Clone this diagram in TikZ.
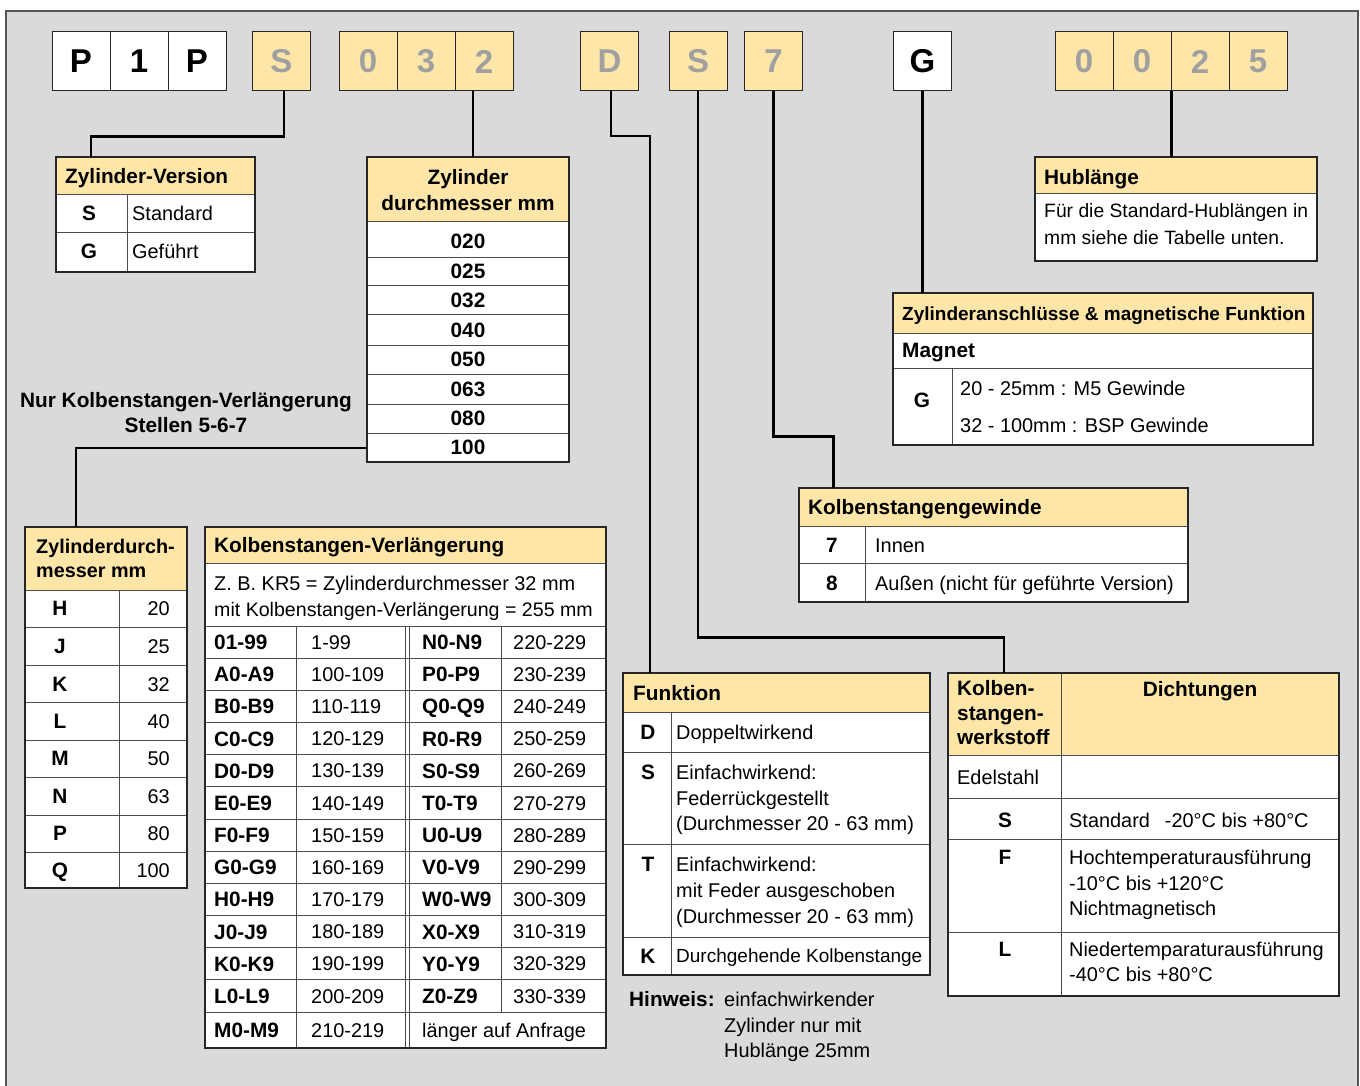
\documentclass[tikz,border=0pt]{standalone}
\usepackage{fontspec}
\setmainfont{Liberation Sans}
\usetikzlibrary{fit}
\definecolor{bg}{RGB}{217,218,220}
\definecolor{hdr}{RGB}{254,230,168}
\definecolor{codegray}{RGB}{160,160,160}
\definecolor{frame}{RGB}{85,85,85}
\newcommand\txf{\fontsize{19.9}{24}\selectfont}
\newcommand\hdf{\fontsize{20.8}{25}\selectfont\bfseries}
\tikzset{
  codebox/.style={draw=black!85, line width=1pt, minimum width=58pt, minimum height=59pt, inner sep=0pt, font=\fontsize{33}{33}\selectfont\bfseries},
  ycode/.style={codebox, fill=hdr, text=codegray},
  wcode/.style={codebox, fill=white, text=black},
  conn/.style={line width=2.6pt, black},
  tbl/.style={draw=black!85, line width=1.1pt},
  tline/.style={draw=black!70, line width=1pt},
  tx/.style={anchor=base west, inner sep=0pt, font=\txf},
  txr/.style={anchor=base east, inner sep=0pt, font=\txf},
  tb/.style={anchor=base west, inner sep=0pt, font=\hdf},
  tbc/.style={anchor=base, inner sep=0pt, font=\hdf},
}
\newcommand\TBL[6]{%
  \fill[white] (#2,#3) rectangle (#4,#5);
  \fill[hdr] (#2,#3) rectangle (#4,#6);
  \draw[tline] (#2,#6) -- (#4,#6);
  \node[inner sep=0pt, fit={(#2,#3) (#4,#5)}] (#1) {};
}
\newcommand\BRD[4]{\draw[tbl] (#1,#2) rectangle (#3,#4);}
\newcommand\TX[4]{\node[tx] (#1) at (#2,#3+7.2) {#4};}
\newcommand\TR[4]{\node[txr] (#1) at (#2,#3+7.2) {#4};}
\newcommand\TB[4]{\node[tb] (#1) at (#2,#3+7.5) {#4};}
\newcommand\TC[4]{\node[tbc] (#1) at (#2,#3+7.5) {#4};}
\begin{document}
\begin{tikzpicture}[x=1pt,y=-1pt]
\useasboundingbox (0,0) rectangle (1360,1086);
\fill[bg] (6,11) rectangle (1358,1086);
\draw[frame, line width=1.5pt] (6,1086) -- (6,11) -- (1358,11) -- (1358,1086);

% ---------- code boxes
\node[wcode] (cP1) at (81,61.5) {P};
\node[wcode] (c1)  at (139,61.5) {1};
\node[wcode] (cP2) at (197,61.5) {P};
\node[ycode] (cS)  at (281.5,61.5) {S};
\node[ycode] (c0a) at (368,61.5) {0};
\node[ycode] (c3)  at (426,61.5) {3};
\node[ycode] (c2)  at (484,61.5) {2};
\node[ycode] (cD)  at (609.5,61.5) {D};
\node[ycode] (cS2) at (698,61.5) {S};
\node[ycode] (c7)  at (773.5,61.5) {7};
\node[wcode] (cG)  at (922.5,61.5) {G};
\node[ycode] (h1)  at (1084,61.5) {0};
\node[ycode] (h2)  at (1142,61.5) {0};
\node[ycode] (h3)  at (1200,61.5) {2};
\node[ycode] (h4)  at (1258,61.5) {5};

% ---------- Zylinder-Version
\TBL{zv}{56}{157}{255}{272}{195}
\draw[tline] (56,233) -- (255,233);
\draw[tline] (127,195) -- (127,272);
\BRD{56}{157}{255}{272}
\TB{zvh}{65}{176}{Zylinder-Version}
\TC{zvs}{89}{213}{S} \TX{zvst}{132}{213}{Standard}
\TC{zvg}{89}{251}{G} \TX{zvgt}{132}{251}{Geführt}

% ---------- Zylinder durchmesser
\TBL{zd}{367}{157}{569}{462}{222}
\foreach \yy in {257,285,314,345,374,404,433} {\draw[tline] (367,\yy) -- (569,\yy);}
\BRD{367}{157}{569}{462}
\TC{zdh1}{468}{177}{Zylinder}
\TC{zdh2}{468}{203}{durchmesser mm}
\foreach \v/\yy in {020/241,025/271,032/300,040/330,050/359,063/389,080/418,100/447}
  {\TC{zd\v}{468}{\yy}{\v}}
\coordinate (r100) at (367,448);

\TC{nur1}{186}{400}{Nur Kolbenstangen-Verlängerung}
\TC{nur2}{186}{425}{Stellen 5-6-7}

% ---------- Zylinderdurchmesser mm (letters)
\TBL{zdm}{25}{527}{187}{888}{590}
\foreach \yy in {627,665,702,740,777,815,852} {\draw[tline] (25,\yy) -- (187,\yy);}
\draw[tline] (119,590) -- (119,888);
\BRD{25}{527}{187}{888}
\node[tb, font=\fontsize{19.8}{24}\selectfont\bfseries] (zdmh1) at (36,546+7.2) {Zylinderdurch-};
\node[tb, font=\fontsize{19.8}{24}\selectfont\bfseries] (zdmh2) at (36,570+7.2) {messer mm};
\foreach \l/\v/\yy in {H/20/608,J/25/646,K/32/684,L/40/721,M/50/758,N/63/796,P/80/833,Q/100/870}
  {\TC{zdl\l}{60}{\yy}{\l} \TR{zdv\l}{170}{\yy}{\v}}

% ---------- Kolbenstangen-Verlaengerung
\TBL{kv}{205}{527}{606}{1048}{563}
\draw[tline] (205,626) -- (606,626);
\foreach \k in {1,...,12} {\draw[tline] (205,626+32.17*\k) -- (606,626+32.17*\k);}
\draw[tline] (296,626) -- (296,1048);
\draw[tline] (405,626) -- (405,1048);
\draw[tline] (409,626) -- (409,1048);
\draw[tline] (501,626) -- (501,1012);
\BRD{205}{527}{606}{1048}
\TB{kvh}{214}{545}{Kolbenstangen-Verlängerung}
\TX{kvz1}{214}{583}{Z. B. KR5 = Zylinderdurchmesser 32 mm}
\node[tx, font=\fontsize{19.6}{24}\selectfont] (kvz2) at (214,609+7.1) {mit Kolbenstangen-Verlängerung = 255 mm};
\foreach \i/\a/\b/\c/\d in {0/01-99/1-99/N0-N9/220-229,1/A0-A9/100-109/P0-P9/230-239,
  2/B0-B9/110-119/Q0-Q9/240-249,3/C0-C9/120-129/R0-R9/250-259,4/D0-D9/130-139/S0-S9/260-269,
  5/E0-E9/140-149/T0-T9/270-279,6/F0-F9/150-159/U0-U9/280-289,7/G0-G9/160-169/V0-V9/290-299,
  8/H0-H9/170-179/W0-W9/300-309,9/J0-J9/180-189/X0-X9/310-319,10/K0-K9/190-199/Y0-Y9/320-329,
  11/L0-L9/200-209/Z0-Z9/330-339}
{\pgfmathsetmacro\yy{626+32.17*(\i+0.5)}
 \TB{kva\i}{214}{\yy}{\a} \TX{kvb\i}{311}{\yy}{\b}
 \TB{kvc\i}{422}{\yy}{\c} \TX{kvd\i}{513}{\yy}{\d}}
\TB{kvm1}{214}{1030}{M0-M9}
\TX{kvm2}{311}{1030}{210-219}
\TX{kvm3}{422}{1030}{länger auf Anfrage}

% ---------- Hublaenge
\TBL{hb}{1035}{157}{1317}{261}{194}
\BRD{1035}{157}{1317}{261}
\TB{hbh}{1044}{177}{Hublänge}
\node[tx, font=\fontsize{19.3}{24}\selectfont] (hb1) at (1044,211+7) {Für die Standard-Hublängen in};
\node[tx, font=\fontsize{19.3}{24}\selectfont] (hb2) at (1044,237+7) {mm siehe die Tabelle unten.};

% ---------- Zylinderanschluesse
\TBL{za}{893}{293}{1313}{445}{333}
\draw[tline] (893,368) -- (1313,368);
\draw[tline] (952,368) -- (952,445);
\BRD{893}{293}{1313}{445}
\node[tb, font=\fontsize{19}{24}\selectfont\bfseries] (zah) at (902,313+7) {Zylinderanschlüsse \& magnetische Funktion};
\TB{zam}{902}{350}{Magnet}
\TC{zag}{922}{400}{G}
\TX{za1}{960}{388}{20 - 25mm : M5 Gewinde}
\TX{za2}{960}{425}{32 - 100mm : BSP Gewinde}

% ---------- Kolbenstangengewinde
\TBL{kg}{799}{488}{1188}{602}{526}
\draw[tline] (799,563) -- (1188,563);
\draw[tline] (865,526) -- (865,602);
\BRD{799}{488}{1188}{602}
\TB{kgh}{808}{507}{Kolbenstangengewinde}
\TC{kg7}{832}{545}{7} \TX{kg7t}{875}{545}{Innen}
\TC{kg8}{832}{583}{8} \TX{kg8t}{875}{583}{Außen (nicht für geführte Version)}

% ---------- Funktion
\TBL{fk}{623}{673}{930}{975}{712}
\foreach \yy in {752,844,937} {\draw[tline] (623,\yy) -- (930,\yy);}
\draw[tline] (671,712) -- (671,975);
\BRD{623}{673}{930}{975}
\TB{fkh}{633}{693}{Funktion}
\TC{fkD}{648}{732}{D} \TX{fkDt}{676}{732}{Doppeltwirkend}
\TC{fkS}{648}{772}{S}
\TX{fkS1}{676}{772}{Einfachwirkend:}
\TX{fkS2}{676}{798}{Federrückgestellt}
\TX{fkS3}{676}{823}{(Durchmesser 20 - 63 mm)}
\TC{fkT}{648}{864}{T}
\TX{fkT1}{676}{864}{Einfachwirkend:}
\TX{fkT2}{676}{890}{mit Feder ausgeschoben}
\TX{fkT3}{676}{916}{(Durchmesser 20 - 63 mm)}
\TC{fkK}{648}{956}{K}
\node[tx, font=\fontsize{19}{22}\selectfont] (fkKt) at (676,956+6.8) {Durchgehende Kolbenstange};

% ---------- Hinweis
\TB{hw}{629}{999}{Hinweis:}
\TX{hw1}{724}{999}{einfachwirkender}
\TX{hw2}{724}{1025}{Zylinder nur mit}
\TX{hw3}{724}{1050}{Hublänge 25mm}

% ---------- Kolbenstangenwerkstoff / Dichtungen
\TBL{kb}{948}{673}{1339}{996}{755}
\foreach \yy in {798,839,932} {\draw[tline] (948,\yy) -- (1339,\yy);}
\draw[tline] (1061,673) -- (1061,996);
\BRD{948}{673}{1339}{996}
\TB{kb1}{957}{688}{Kolben-}
\TB{kb2}{957}{713}{stangen-}
\TB{kb3}{957}{737}{werkstoff}
\TC{kbd}{1200}{689}{Dichtungen}
\TX{kbe}{957}{777}{Edelstahl}
\TC{kbS}{1005}{820}{S} \TX{kbSt}{1069}{820}{Standard\hspace{15pt}-20°C bis +80°C}
\TC{kbF}{1005}{857}{F}
\TX{kbF1}{1069}{857}{Hochtemperaturausführung}
\TX{kbF2}{1069}{883}{-10°C bis +120°C}
\TX{kbF3}{1069}{908}{Nichtmagnetisch}
\TC{kbL}{1005}{949}{L}
\TX{kbL1}{1069}{949}{Niedertemparaturausführung}
\TX{kbL2}{1069}{974}{-40°C bis +80°C}

% ---------- connectors
\draw[conn] ([xshift=2.5pt]cS.south) -- ++(0,45) -| ([xshift=35pt]zv.north west);
\draw[conn] ([xshift=-11pt]c2.south) -- ([xshift=-11pt]c2.south |- zd.north);
\draw[conn] ([xshift=1.5pt]cD.south) -- ++(0,44.5) -| ([xshift=27pt]fk.north west);
\draw[conn] (cS2.south) -- ++(0,546) -| ([xshift=56pt]kb.north west);
\draw[conn] (c7.south) -- ++(0,345) -| ([xshift=34.5pt]kg.north west);
\draw[conn] (cG.south) -- (cG.south |- za.north);
\draw[conn] (h2.south east) -- (h2.south east |- hb.north);
\draw[conn] (r100) -| ([xshift=51pt]zdm.north west);
\end{tikzpicture}
\end{document}
